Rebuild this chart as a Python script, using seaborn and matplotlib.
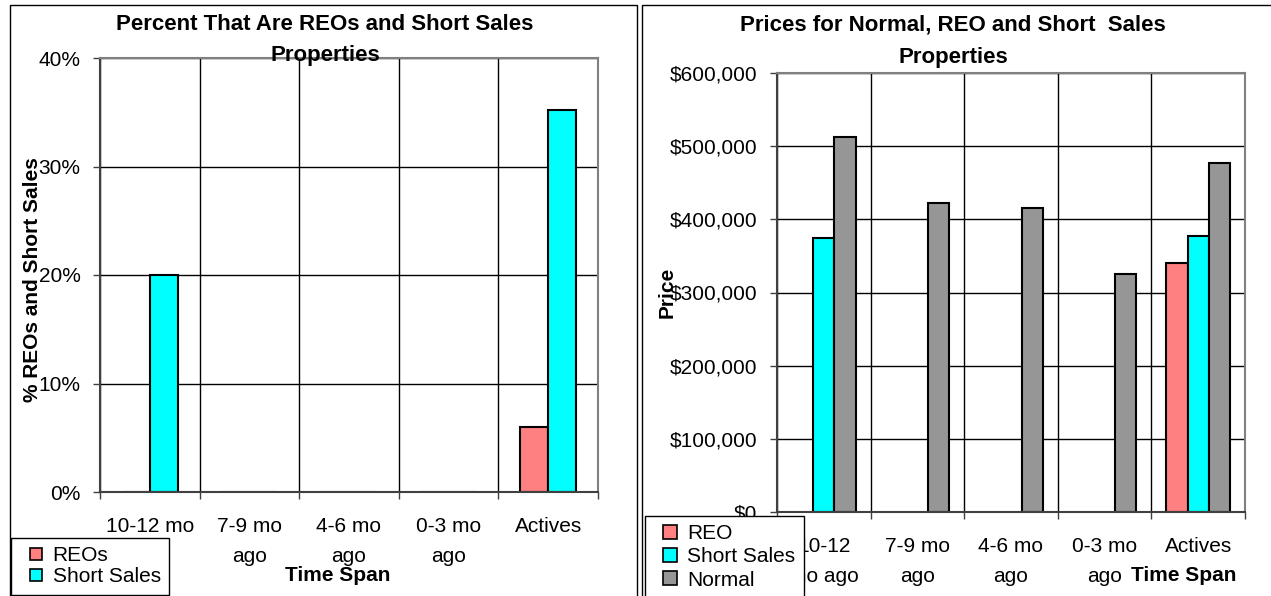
import pandas as pd
import seaborn as sns
import matplotlib.pyplot as plt
import numpy as np
from matplotlib.lines import Line2D
from matplotlib.patches import Rectangle
from matplotlib.ticker import PercentFormatter, FuncFormatter

# data
periods = ['10-12 mo', '7-9 mo', '4-6 mo', '0-3 mo', 'Actives']
pct_labels = ['10-12 mo\nago', '7-9 mo\nago', '4-6 mo\nago', '0-3 mo\nago', 'Actives']
price_labels = ['10-12\nmo ago', '7-9 mo\nago', '4-6 mo\nago', '0-3 mo\nago', 'Actives']

pct_reo = [0.0, 0.0, 0.0, 0.0, 0.06]
pct_short = [0.20, 0.0, 0.0, 0.0, 0.352]

price_reo = [np.nan, np.nan, np.nan, np.nan, 340000]
price_short = [374000, np.nan, np.nan, np.nan, 377000]
price_normal = [512000, 422000, 416000, 325000, 477000]

colors = {'REO': '#FF8080', 'Short Sales': '#00FFFF', 'Normal': '#969696'}

sns.set_style('white')
plt.rcParams['font.family'] = ['Liberation Sans', 'DejaVu Sans']
plt.rcParams['text.color'] = 'black'
plt.rcParams['axes.labelcolor'] = 'black'
plt.rcParams['xtick.color'] = 'black'
plt.rcParams['ytick.color'] = 'black'

W, H = 1271, 596
fig = plt.figure(figsize=(W / 100, H / 100), dpi=100)


def fx(px):
    return px / W


def fy(py):
    return 1 - py / H


# panel frames
fig.patches.append(Rectangle((fx(10), fy(600)), fx(637) - fx(10), fy(5) - fy(600),
                             transform=fig.transFigure, fill=False, edgecolor='black', lw=1))
fig.patches.append(Rectangle((fx(642), fy(600)), fx(1276) - fx(642), fy(5) - fy(600),
                             transform=fig.transFigure, fill=False, edgecolor='black', lw=1))

ax1 = fig.add_axes([fx(100), fy(492), fx(598) - fx(100), fy(58) - fy(492)])
ax2 = fig.add_axes([fx(777), fy(512), fx(1245) - fx(777), fy(73) - fy(512)])

df_pct = pd.DataFrame({
    'period': periods * 2,
    'type': ['REO'] * 5 + ['Short Sales'] * 5,
    'value': pct_reo + pct_short,
})
df_price = pd.DataFrame({
    'period': periods * 3,
    'type': ['REO'] * 5 + ['Short Sales'] * 5 + ['Normal'] * 5,
    'value': price_reo + price_short + price_normal,
})

sns.barplot(data=df_pct, x='period', y='value', hue='type', order=periods,
            hue_order=['REO', 'Short Sales'], palette=colors, saturation=1, width=0.56,
            edgecolor='black', linewidth=1.5, errorbar=None, legend=False, ax=ax1,
            zorder=2)
sns.barplot(data=df_price, x='period', y='value', hue='type', order=periods,
            hue_order=['REO', 'Short Sales', 'Normal'], palette=colors, saturation=1,
            width=0.68, edgecolor='black', linewidth=1.5, errorbar=None, legend=False,
            ax=ax2, zorder=2)

ax1.set_ylim(0, 0.40)
ax1.set_yticks([0, 0.1, 0.2, 0.3, 0.4])
ax1.yaxis.set_major_formatter(PercentFormatter(1.0, decimals=0))
ax2.set_ylim(0, 600000)
ax2.set_yticks(range(0, 600001, 100000))
ax2.yaxis.set_major_formatter(FuncFormatter(lambda v, p: f'${v:,.0f}'))

for ax, labels in [(ax1, pct_labels), (ax2, price_labels)]:
    ax.set_xlim(-0.5, len(periods) - 0.5)
    ax.set_xticks(range(len(periods)))
    ax.set_xticklabels(labels, linespacing=1.7)
    ax.set_xticks(np.arange(-0.5, len(periods), 1), minor=True)
    ax.tick_params(axis='x', which='major', length=0, pad=18, labelsize=15)
    ax.tick_params(axis='x', which='minor', length=5, width=1, color='#404040',
                   direction='out', bottom=True)
    ax.tick_params(axis='y', length=5, width=1, color='#404040', direction='out',
                   left=True, pad=9, labelsize=15)
    ax.grid(axis='y', which='major', color='black', lw=1)
    ax.grid(axis='x', which='minor', color='black', lw=1)
    ax.set_axisbelow(True)
    for side in ['top', 'right']:
        ax.spines[side].set_color('#808080')
        ax.spines[side].set_linewidth(1.5)
    for side in ['left', 'bottom']:
        ax.spines[side].set_color('#404040')
        ax.spines[side].set_linewidth(1.5)

ax1.set_xlabel('Time Span', fontsize=15, fontweight='bold')
ax1.set_ylabel('% REOs and Short Sales', fontsize=15, fontweight='bold')
ax1.xaxis.set_label_coords((338 - 100) / 498, (492 - 566) / 434)
ax1.yaxis.set_label_coords((42 - 100) / 498, 0.49)

ax2.set_xlabel('Time Span', fontsize=15, fontweight='bold')
ax2.set_ylabel('Price', fontsize=15, fontweight='bold')
ax2.xaxis.set_label_coords((1184 - 777) / 468, (512 - 566) / 439)
ax2.yaxis.set_label_coords((677 - 777) / 468, 0.5)

# titles
fig.text(fx(325), fy(25), 'Percent That Are REOs and Short Sales', ha='center', va='center',
         fontsize=16, fontweight='bold', zorder=10)
fig.text(fx(325), fy(56), 'Properties', ha='center', va='center',
         fontsize=16, fontweight='bold', zorder=10)
fig.text(fx(953), fy(25), 'Prices for Normal, REO and Short  Sales', ha='center', va='center',
         fontsize=16, fontweight='bold', zorder=10)
fig.text(fx(953), fy(57), 'Properties', ha='center', va='center',
         fontsize=16, fontweight='bold', zorder=10)


def square(name, ms):
    return Line2D([], [], marker='s', linestyle='none', markersize=ms,
                  markerfacecolor=colors[name], markeredgecolor='black', markeredgewidth=1.2)


leg_kw = dict(loc='upper left', frameon=True, fancybox=False, framealpha=1,
              edgecolor='black', fontsize=15, borderpad=0.4,
              handletextpad=0.0, borderaxespad=0)
leg1 = fig.legend([square('REO', 8.5), square('Short Sales', 8.5)], ['REOs', 'Short Sales'],
                  bbox_to_anchor=(fx(11), fy(538)), handlelength=1.6, labelspacing=0.1,
                  **leg_kw)
leg2 = fig.legend([square(n, 9.5) for n in ['REO', 'Short Sales', 'Normal']],
                  ['REO', 'Short Sales', 'Normal'],
                  bbox_to_anchor=(fx(645), fy(516)), handlelength=1.63, labelspacing=0.2,
                  **leg_kw)
for leg in (leg1, leg2):
    leg.get_frame().set_linewidth(1)

fig.savefig('out.png', dpi=100)
